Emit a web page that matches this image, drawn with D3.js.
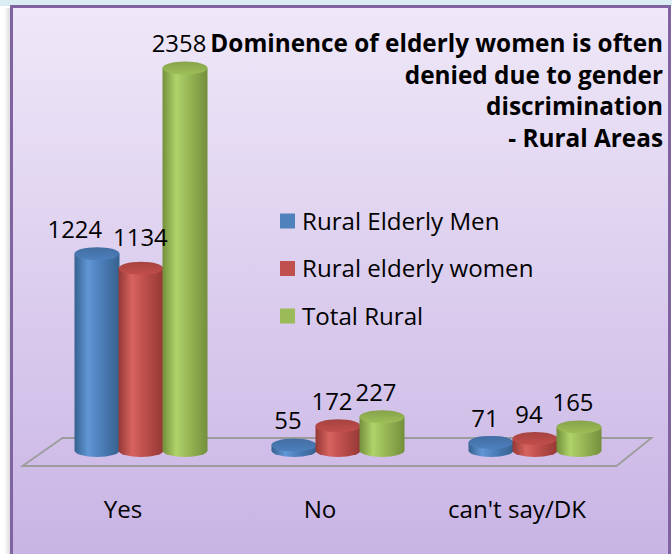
<!DOCTYPE html>
<html><head><meta charset="utf-8">
<script src="https://cdn.jsdelivr.net/npm/d3@7"></script>
<style>html,body{margin:0;padding:0;background:#fff;overflow:hidden}text{font-variant-ligatures:none}</style>
</head><body>
<svg id="c" width="672" height="554"></svg>
<script>
const categories = ["Yes", "No", "can't say/DK"];
const seriesNames = ["Rural Elderly Men", "Rural elderly women", "Total Rural"];
const menValues = [1224, 55, 71];
const womenValues = [1134, 172, 94];
const totalValues = [2358, 227, 165];
const titleLines = ["Dominence of elderly women is often", "denied due to gender", "discrimination", "- Rural Areas"];
const seriesColors = [
  {dark:"#36618f", mid:"#4f81bd", light:"#6197d6", top:"#4877b0"},
  {dark:"#953835", mid:"#c0504d", light:"#d7635f", top:"#b54946"},
  {dark:"#738f3b", mid:"#9bbb59", light:"#b0d36a", top:"#92b251"}
];
const seriesValues = [menValues, womenValues, totalValues];

const FONT = "'Open Sans', 'Noto Sans', sans-serif";
const svg = d3.select("#c");
const defs = svg.append("defs");

// background
const bg = defs.append("linearGradient").attr("id","bg").attr("x1",0).attr("y1",0).attr("x2",0).attr("y2",1);
bg.append("stop").attr("offset","0%").attr("stop-color","#efe8f8");
bg.append("stop").attr("offset","100%").attr("stop-color","#c8b3e4");
const sh = defs.append("linearGradient").attr("id","sh").attr("x1",0).attr("y1",0).attr("x2",1).attr("y2",0);
sh.append("stop").attr("offset","0%").attr("stop-color","#ffffff");
sh.append("stop").attr("offset","100%").attr("stop-color","#d8d8d8");

svg.append("rect").attr("x",0).attr("y",0).attr("width",672).attr("height",554).attr("fill","#ffffff");
svg.append("rect").attr("x",0).attr("y",0).attr("width",672).attr("height",6).attr("fill","#daedf3");
svg.append("rect").attr("x",4).attr("y",8).attr("width",7).attr("height",546).attr("fill","url(#sh)");
svg.append("rect").attr("x",11.5).attr("y",6.5).attr("width",658).attr("height",560)
  .attr("fill","url(#bg)").attr("stroke","#8064a2").attr("stroke-width",3);

// fit helper
function fitSize(text, weight, target){
  const t = svg.append("text").attr("font-family",FONT).attr("font-weight",weight).attr("font-size",100).text(text);
  const w = t.node().getComputedTextLength();
  t.remove();
  return 100*target/w;
}

// scales
const x = d3.scaleBand().domain(categories).range([42.5, 633.5]).paddingInner(0).paddingOuter(0);
const inner = d3.scaleBand().domain(seriesNames).range([-66, 66]);
const y = d3.scaleLinear().domain([0, 2500]).range([454, 44.75]);
const ry = 6.5;
const rx = inner.bandwidth()/2 + 0.5;

// floor
const [x0, x1] = x.range();
const fy = y(0) + 12, by = y(0) - 16;
svg.append("path")
  .attr("d", `M${x0-20},${fy} L${x1-17},${fy} L${x1+18},${by} L${x0+20},${by} Z`)
  .attr("fill","none").attr("stroke","#9c9c9c").attr("stroke-width",1.8);

// gradients per series
seriesColors.forEach((c,i)=>{
  const g = defs.append("linearGradient").attr("id","cyl"+i).attr("x1",0).attr("y1",0).attr("x2",1).attr("y2",0);
  g.append("stop").attr("offset","0%").attr("stop-color",c.dark);
  g.append("stop").attr("offset","30%").attr("stop-color",c.light);
  g.append("stop").attr("offset","55%").attr("stop-color",c.mid);
  g.append("stop").attr("offset","100%").attr("stop-color",c.dark);
  const t = defs.append("linearGradient").attr("id","top"+i).attr("x1",0).attr("y1",0).attr("x2",0).attr("y2",1);
  t.append("stop").attr("offset","0%").attr("stop-color",d3.color(c.top).darker(0.25));
  t.append("stop").attr("offset","100%").attr("stop-color",d3.color(c.top).brighter(0.2));
});

// data records
const records = [];
categories.forEach((cat, ci)=>{
  seriesNames.forEach((s, si)=>{
    records.push({cat, si, s, v: seriesValues[si][ci]});
  });
});

const bars = svg.append("g");
records.forEach(d=>{
  const cx = x(d.cat) + x.bandwidth()/2 + inner(d.s) + inner.bandwidth()/2;
  const topY = y(d.v);
  const botY = y(0) - 3.5;
  const g = bars.append("g");
  g.append("path")
    .attr("d", `M${cx-rx},${topY} L${cx-rx},${botY} A${rx},${ry} 0 0 0 ${cx+rx},${botY} L${cx+rx},${topY} Z`)
    .attr("fill", `url(#cyl${d.si})`);
  g.append("ellipse").attr("cx",cx).attr("cy",topY).attr("rx",rx).attr("ry",ry)
    .attr("fill", `url(#top${d.si})`);
  d.cx = cx; d.topY = topY;
});

// value labels
const valSize = fitSize("1224", 400, 52) * 1.05;
const labels = [];
categories.forEach(cat=>{
  const grp = records.filter(r=>r.cat===cat);
  let prev = null;
  grp.forEach(r=>{
    const tmp = svg.append("text").attr("font-family",FONT).attr("font-size",valSize).text(r.v);
    const w = tmp.node().getComputedTextLength(); tmp.remove();
    const L = {text:String(r.v), x:r.cx-6, y:r.topY-ry-9, w};
    if(prev){
      const overlap = (prev.x + prev.w/2) - (L.x - L.w/2);
      const vOverlap = Math.abs(prev.y - L.y) < valSize*0.9;
      if(overlap > 0 && vOverlap){
        const need = overlap + 11;
        prev.x -= need*0.75; L.x += need*0.25; L.y -= 7;
      }
    }
    labels.push(L); prev = L;
  });
});
svg.append("g").selectAll("text").data(labels).join("text")
  .attr("x",d=>d.x).attr("y",d=>d.y).attr("text-anchor","middle")
  .attr("font-family",FONT).attr("font-size",valSize).attr("fill","#000")
  .text(d=>d.text);

// category labels
const catSize = fitSize("can't say/DK", 400, 133) * 1.04;
svg.append("g").selectAll("text").data(categories).join("text")
  .attr("x",d=>x(d)+x.bandwidth()/2-18).attr("y",518).attr("text-anchor","middle")
  .attr("font-family",FONT).attr("font-size",catSize).attr("fill","#000").text(d=>d);

// legend
const legSize = fitSize("Rural Elderly Men", 400, 190) * 1.04;
const leg = svg.append("g").selectAll("g").data(seriesNames).join("g")
  .attr("transform",(d,i)=>`translate(280,${221 + i*47.5})`);
leg.append("rect").attr("x",0).attr("y",-7.5).attr("width",15).attr("height",15)
  .attr("fill",(d,i)=>seriesColors[i].mid);
leg.append("text").attr("x",22).attr("y",legSize*0.36).attr("font-family",FONT)
  .attr("font-size",legSize).attr("fill","#000").text(d=>d);

// title
const titleSize = fitSize(titleLines[0], 700, 453);
svg.append("g").selectAll("text").data(titleLines).join("text")
  .attr("x",663).attr("y",(d,i)=>52 + i*31.7).attr("text-anchor","end")
  .attr("font-family",FONT).attr("font-weight",700).attr("font-size",titleSize)
  .attr("fill","#000").text(d=>d);
</script>
</body></html>
